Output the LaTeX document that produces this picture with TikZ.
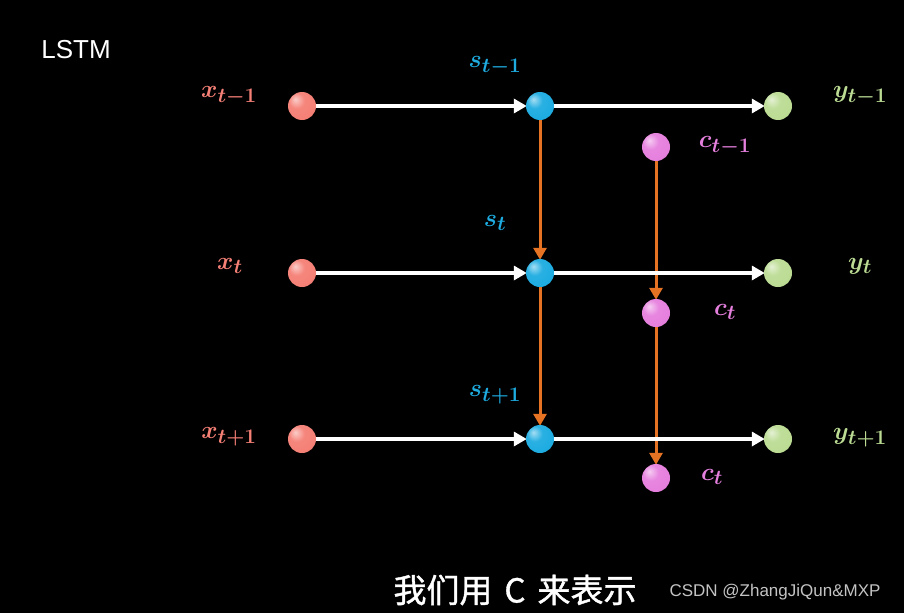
\documentclass[tikz,border=0pt]{standalone}
\usepackage{fontspec}
\setsansfont{Liberation Sans}
\newfontfamily\cjk{Noto Sans CJK SC}[FakeBold=1.2]
\usetikzlibrary{arrows.meta}
\definecolor{xcol}{RGB}{245,128,118}
\definecolor{scol}{RGB}{30,172,225}
\definecolor{ycol}{RGB}{188,220,148}
\definecolor{ccol}{RGB}{230,128,222}
\definecolor{gatecol}{RGB}{230,115,35}
\colorlet{tball}{white}
\pgfdeclareradialshading[tball]{glossy}{\pgfpoint{-12bp}{12bp}}{%
  color(0bp)=(tball!40!white); color(14bp)=(tball!95!white);
  color(30bp)=(tball); color(50bp)=(tball!88!black); color(70bp)=(tball!80!black)}
\tikzset{
  ball/.style={circle, minimum size=28pt, inner sep=0pt},
  lbl/.style={text=#1, font=\fontsize{30}{34}\selectfont\boldmath},
  flow/.style={-{Triangle[length=13pt,width=14pt]}, line width=4pt, white, shorten >=-1pt},
  carry/.style={-{Triangle[length=12pt,width=13pt]}, line width=3pt, gatecol, shorten >=-1pt}
}
\begin{document}
\begin{tikzpicture}[x=1pt, y=-1pt]
  \fill[black] (0,0) rectangle (904,613);
  \useasboundingbox (0,0) rectangle (904,613);
  % define points
  \node[ball] (xa) at (302,106) {};
  \node[ball] (xb) at (302,273) {};
  \node[ball] (xc) at (302,439) {};
  \node[ball] (sa) at (540,106) {};
  \node[ball] (sb) at (540,273) {};
  \node[ball] (sc) at (540,439) {};
  \node[ball] (ya) at (778,106) {};
  \node[ball] (yb) at (778,273) {};
  \node[ball] (yc) at (778,439) {};
  \node[ball] (ca) at (656,147) {};
  \node[ball] (cb) at (656,313) {};
  \node[ball] (cc) at (656,478) {};
  % cell state arrows
  \draw[carry] (sa) -- (sb);
  \draw[carry] (sb) -- (sc);
  \draw[carry] (ca) -- (cb);
  \draw[carry] (cb) -- (cc);
  % input to output arrows
  \draw[flow] (xa) -- (sa);
  \draw[flow] (sa) -- (ya);
  \draw[flow] (xb) -- (sb);
  \draw[flow] (sb) -- (yb);
  \draw[flow] (xc) -- (sc);
  \draw[flow] (sc) -- (yc);
  % balls on top
  \foreach \n/\c in {xa/xcol,xb/xcol,xc/xcol,sa/scol,sb/scol,sc/scol,ya/ycol,yb/ycol,yc/ycol,ca/ccol,cb/ccol,cc/ccol}{
    \colorlet{tball}{\c}
    \shade[shading=glossy] (\n.center) circle (14pt);
  }
  % labels
  \node[lbl=xcol] (lxa) at (229,96) {$x_{t-1}$};
  \node[lbl=xcol] (lxb) at (230,266) {$x_{t}$};
  \node[lbl=xcol] (lxc) at (229,437) {$x_{t+1}$};
  \node[lbl=scol] (lsa) at (495,66) {$s_{t-1}$};
  \node[lbl=scol] (lsb) at (495,223) {$s_{t}$};
  \node[lbl=scol] (lsc) at (495,395) {$s_{t+1}$};
  \node[lbl=ycol] (lya) at (860,96) {$y_{t-1}$};
  \node[lbl=ycol] (lyb) at (860,266) {$y_{t}$};
  \node[lbl=ycol] (lyc) at (860,438) {$y_{t+1}$};
  \node[lbl=ccol] (lca) at (725,146) {$c_{t-1}$};
  \node[lbl=ccol] (lcb) at (725,312) {$c_{t}$};
  \node[lbl=ccol] (lcc) at (712,477) {$c_{t}$};
  \node[text=white, font=\sffamily\fontsize{26}{30}\selectfont] (title) at (76,50) {LSTM};
  \node[text=white, font=\cjk\fontsize{33}{38}\selectfont] (caption) at (515,590) {我们用\hspace{12pt}C\hspace{12pt}来表示};
  \node[text={rgb,255:red,195;green,195;blue,195}, font=\sffamily\fontsize{17}{20}\selectfont] (mark) at (775,592) {CSDN @ZhangJiQun\&MXP};
\end{tikzpicture}
\end{document}
